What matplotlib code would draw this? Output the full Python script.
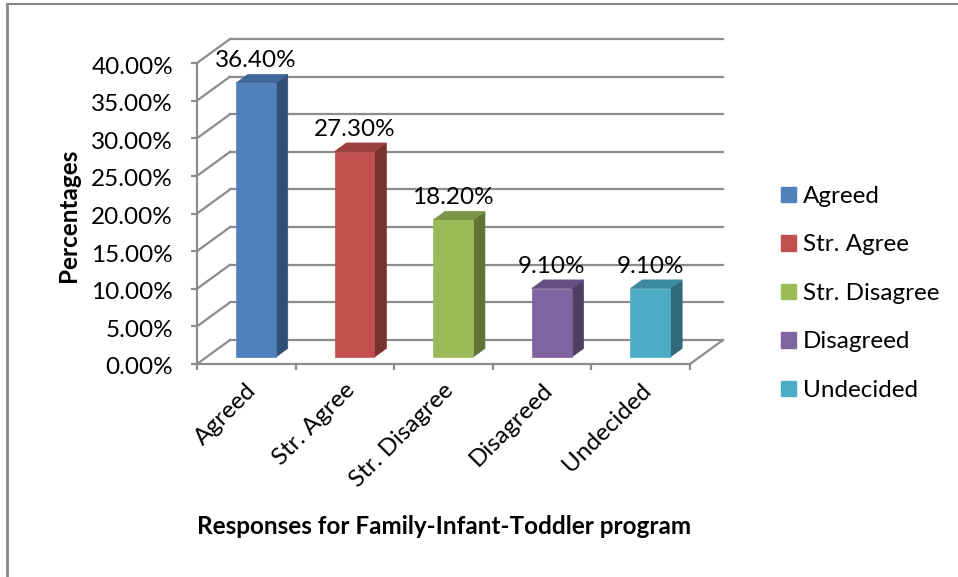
import matplotlib
matplotlib.use('Agg')
import matplotlib.pyplot as plt
from matplotlib.patches import Polygon, Patch
from matplotlib.lines import Line2D
import matplotlib.transforms as mtrans
import matplotlib.colors as mcolors
import numpy as np

categories = ['Agreed', 'Str. Agree', 'Str. Disagree', 'Disagreed', 'Undecided']
values = [36.40, 27.30, 18.20, 9.10, 9.10]
colors = ['#4F81BD', '#C0504D', '#9BBB59', '#8064A2', '#4BACC6']
y_ticks = [0, 5, 10, 15, 20, 25, 30, 35, 40]
y_tick_labels = ['0.00%', '5.00%', '10.00%', '15.00%', '20.00%', '25.00%', '30.00%', '35.00%', '40.00%']
data_labels = ['36.40%', '27.30%', '18.20%', '9.10%', '9.10%']
y_title = 'Percentages'
x_title = 'Responses for Family-Infant-Toddler program'

plt.rcParams['font.family'] = ['Lato', 'DejaVu Sans']
FS = 17.5
W, H = 958, 577
fig = plt.figure(figsize=(W / 100, H / 100), dpi=100)
fig.patch.set_facecolor('white')

ax = fig.add_axes([197 / W, 1 - 364 / H, 493 / W, 301 / H])
ax.set_xlim(0, len(categories))
ax.set_ylim(0, 40)
ax.patch.set_visible(False)
grid_c = '#8c8c8c'
for s in ['top', 'right']:
    ax.spines[s].set_visible(False)
for s in ['left', 'bottom']:
    ax.spines[s].set_color(grid_c)
    ax.spines[s].set_linewidth(1.6)
    ax.spines[s].set_zorder(2)

# oblique depth (in data units)
DX, DY = 0.335, 3.19
n = len(categories)
for v in y_ticks:
    ax.plot([0, DX], [v, v + DY], color=grid_c, lw=1.6, clip_on=False, zorder=1)
    ax.plot([DX, n + DX], [v + DY, v + DY], color=grid_c, lw=1.6, clip_on=False, zorder=1)
ax.plot([n, n + DX], [0, DY], color=grid_c, lw=1.6, clip_on=False, zorder=1)

# bars
w, d1, d2 = 0.405, 0.29, 0.65
for i, (v, c, lab) in enumerate(zip(values, colors, data_labels)):
    rgb = np.array(mcolors.to_rgb(c))
    top_c = rgb * 0.80
    side_c = rgb * 0.62
    x0 = i + (1 - w) / 2
    x1 = x0 + w
    ox1, oy1 = d1 * DX, d1 * DY
    ox2, oy2 = d2 * DX, d2 * DY
    front = [(x0 + ox1, oy1), (x1 + ox1, oy1), (x1 + ox1, v + oy1), (x0 + ox1, v + oy1)]
    side = [(x1 + ox1, oy1), (x1 + ox2, oy2), (x1 + ox2, v + oy2), (x1 + ox1, v + oy1)]
    top = [(x0 + ox1, v + oy1), (x1 + ox1, v + oy1), (x1 + ox2, v + oy2), (x0 + ox2, v + oy2)]
    for poly, col in ((side, side_c), (top, top_c), (front, rgb)):
        ax.add_patch(Polygon(poly, closed=True, facecolor=col, edgecolor=col, lw=0.5,
                             clip_on=False, zorder=3))
    ax.annotate(lab, xy=(i + 0.5 + ox1, v + oy2), xytext=(0, 10), textcoords='offset points',
                ha='center', va='center', fontsize=FS, color='black', zorder=4,
                annotation_clip=False)

ax.set_yticks(y_ticks)
ax.set_yticklabels(y_tick_labels)
ax.set_xticks(range(n + 1))
ax.set_xticklabels([])
ax.tick_params(axis='y', length=4.3, width=1.6, color=grid_c, pad=13, labelsize=FS)
ax.tick_params(axis='x', length=4.5, width=1.6, color=grid_c, direction='out')
for t in ax.get_yticklabels():
    t.set_transform(t.get_transform() + mtrans.ScaledTranslation(0, -2 / 100, fig.dpi_scale_trans))

off = mtrans.ScaledTranslation(7 / 100, -23 / 100, fig.dpi_scale_trans)
for i, cat in enumerate(categories):
    ax.text(i + 0.5, 0, cat, transform=ax.transData + off, rotation=45,
            rotation_mode='anchor', ha='right', va='center', fontsize=FS)

fig.text(68 / W, 1 - 215 / H, y_title, rotation=90, ha='center', va='center',
         fontsize=FS, fontweight='bold')
fig.text(444 / W, 1 - 527 / H, x_title, ha='center', va='center',
         fontsize=FS, fontweight='bold')

handles = [Patch(facecolor=c, edgecolor=c) for c in colors]
fig.legend(handles, categories, loc='upper left', bbox_to_anchor=(781 / W, 1 - 186 / H),
           frameon=False, fontsize=FS, handlelength=0.6, handleheight=0.6,
           handletextpad=0.3, labelspacing=1.13, borderaxespad=0, borderpad=0)

# chart border (left and top)
fig.add_artist(Line2D([7 / W, 7 / W], [0, 1 - 4 / H], color='#888888', lw=2))
fig.add_artist(Line2D([7 / W, 1], [1 - 4 / H, 1 - 4 / H], color='#888888', lw=1.5))

fig.savefig('out.png', dpi=100, facecolor='white')
